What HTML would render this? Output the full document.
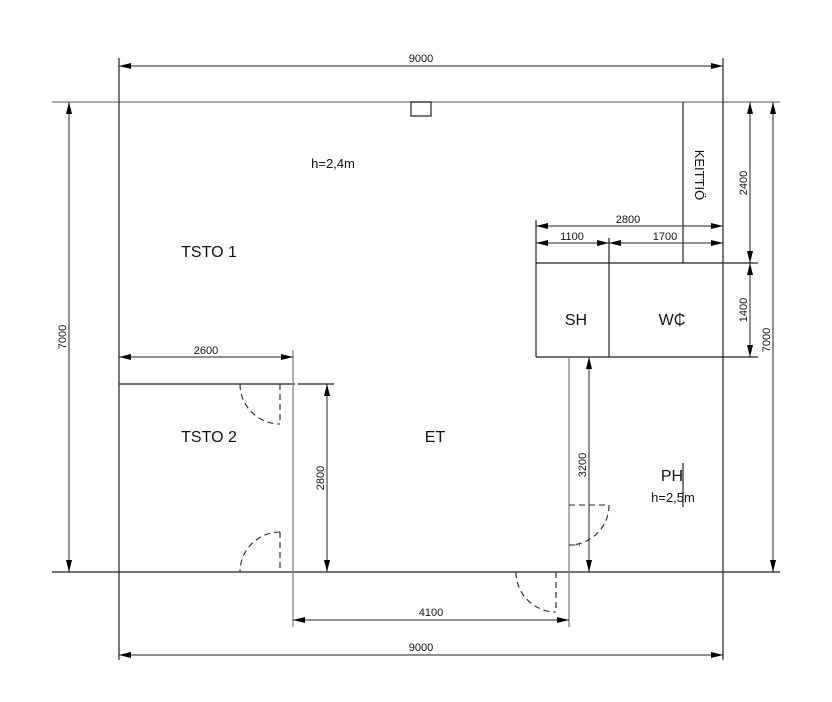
<!DOCTYPE html>
<html><head><meta charset="utf-8"><style>
html,body{margin:0;padding:0;background:#fff;}
svg{display:block;}
text{font-family:"Liberation Sans",sans-serif;fill:#111;}
</style></head><body>
<svg width="832" height="702" viewBox="0 0 832 702" xmlns="http://www.w3.org/2000/svg">
<defs>
<marker id="a" viewBox="0 0 12 6" refX="12" refY="3" markerWidth="12" markerHeight="6" orient="auto-start-reverse" markerUnits="userSpaceOnUse">
<path d="M0,0 L12,3 L0,6 z" fill="#000"/>
</marker>
</defs>
<g stroke="#222" stroke-width="1.2" fill="none">
<!-- outer walls -->
<line x1="52" y1="102" x2="780" y2="102" stroke="#777"/>
<line x1="52" y1="572" x2="780" y2="572"/>
<line x1="119" y1="58" x2="119" y2="660"/>
<line x1="723" y1="58" x2="723" y2="660"/>
<!-- small rect -->
<rect x="411" y="102" width="20" height="14"/>
<!-- kitchen -->
<line x1="683" y1="102" x2="683" y2="263"/>
<!-- SH/WC -->
<line x1="536" y1="263" x2="758" y2="263"/>
<line x1="536" y1="357" x2="758" y2="357"/>
<line x1="536" y1="220" x2="536" y2="357"/>
<line x1="609" y1="238" x2="609" y2="357"/>
<!-- TSTO2 -->
<line x1="119" y1="384" x2="295" y2="384"/>
<line x1="298" y1="384" x2="334" y2="384"/>
<line x1="293" y1="350" x2="293" y2="627" stroke="#777"/>
<!-- PH wall -->
<line x1="569" y1="357" x2="569" y2="627" stroke="#777"/>
<!-- PH small line -->
<line x1="683" y1="463" x2="683" y2="507"/>
</g>
<g stroke="#222" stroke-width="1.1" fill="none" stroke-dasharray="6,4">
<line x1="280" y1="384" x2="280" y2="424"/>
<path d="M240,384 A40,40 0 0 0 280,424"/>
<line x1="280" y1="532" x2="280" y2="572"/>
<path d="M280,532 A40,40 0 0 0 240,572"/>
<line x1="569" y1="505" x2="609" y2="505"/>
<path d="M609,505 A40,40 0 0 1 569,545"/>
<line x1="569" y1="545" x2="580" y2="545"/>
<line x1="556" y1="572" x2="556" y2="612"/>
<path d="M516,572 A40,40 0 0 0 556,612"/>
</g>
<!-- dimensions -->
<g stroke="#222" stroke-width="1" marker-start="url(#a)" marker-end="url(#a)">
<line x1="119" y1="66" x2="723" y2="66"/>
<line x1="119" y1="655" x2="723" y2="655"/>
<line x1="69" y1="102" x2="69" y2="572"/>
<line x1="773" y1="102" x2="773" y2="572"/>
<line x1="750" y1="102" x2="750" y2="263"/>
<line x1="750" y1="263" x2="750" y2="357"/>
<line x1="536" y1="226" x2="723" y2="226"/>
<line x1="536" y1="243" x2="609" y2="243"/>
<line x1="609" y1="243" x2="723" y2="243"/>
<line x1="119" y1="357" x2="293" y2="357"/>
<line x1="327" y1="384" x2="327" y2="572"/>
<line x1="589" y1="357" x2="589" y2="572"/>
<line x1="293" y1="620" x2="569" y2="620"/>
</g>
<g font-size="11" text-anchor="middle">
<text x="421" y="62">9000</text>
<text x="421" y="651">9000</text>
<text x="431" y="616">4100</text>
<text x="206" y="354">2600</text>
<text x="628" y="223">2800</text>
<text x="572" y="240">1100</text>
<text x="665" y="240">1700</text>
<text transform="translate(66,337) rotate(-90)">7000</text>
<text transform="translate(770,340) rotate(-90)">7000</text>
<text transform="translate(747,183) rotate(-90)">2400</text>
<text transform="translate(747,310) rotate(-90)">1400</text>
<text transform="translate(324,478) rotate(-90)">2800</text>
<text transform="translate(586,465) rotate(-90)">3200</text>
</g>
<g text-anchor="middle">
<text x="333" y="168" font-size="13">h=2,4m</text>
<text x="209" y="257" font-size="16">TSTO 1</text>
<text x="209" y="442" font-size="16">TSTO 2</text>
<text x="435" y="442" font-size="16">ET</text>
<text x="576" y="325" font-size="16">SH</text>
<text x="672" y="325" font-size="16">W₵</text>
<text x="672" y="481" font-size="16">PH</text>
<text x="673" y="502" font-size="13">h=2,5m</text>
<text transform="translate(695,175) rotate(90)" font-size="13">KEITTIÖ</text>
</g>
</svg>
</body></html>
